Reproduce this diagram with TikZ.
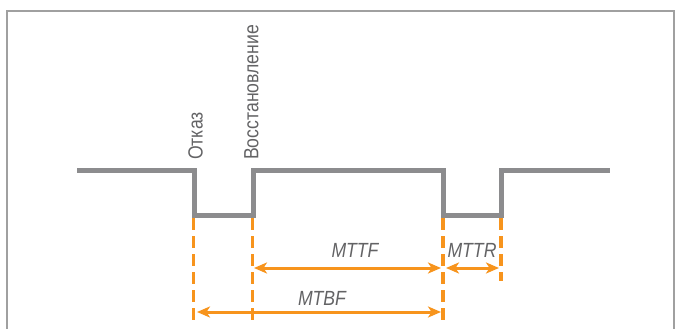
\documentclass[tikz,border=0pt]{standalone}
\usepackage{fontspec}
\setsansfont{Liberation Sans}
\newfontfamily\condfont[FakeStretch=0.86]{Liberation Sans}
\usetikzlibrary{arrows.meta}
\definecolor{sig}{HTML}{8C8C8E}
\definecolor{org}{HTML}{F7941D}
\definecolor{txt}{HTML}{636365}
\definecolor{framec}{HTML}{A0A0A0}
\tikzset{
  signal/.style={draw=sig, line width=5pt, line join=miter},
  marker/.style={draw=org, line width=3.3pt, dash pattern=on 12pt off 6pt},
  span/.style={draw=org, line width=3pt, {Stealth[length=13pt,width=11pt,inset=3.5pt]}-{Stealth[length=13pt,width=11pt,inset=3.5pt]}},
  vlabel/.style={rotate=90, anchor=west, inner sep=0pt, text=txt, font=\condfont\fontsize{20.5}{20.5}\selectfont},
  mlabel/.style={inner sep=0pt, text=txt, font=\condfont\itshape\fontsize{20.5}{20.5}\selectfont},
}
\begin{document}
\begin{tikzpicture}[x=1pt,y=-1pt]
\useasboundingbox (0,0) rectangle (681,329);
% frame
\coordinate (fbl) at (7,329);
\coordinate (ftl) at (7,11);
\coordinate (ftr) at (674,11);
\coordinate (fbr) at (674,329);
\draw[draw=framec, line width=1.5pt] (fbl) -- (ftl) -- (ftr) -- (fbr);
% signal
\coordinate (s0) at (77,170.5);
\coordinate (s1) at (194,170.5);
\coordinate (s2) at (194,215.5);
\coordinate (s3) at (253,215.5);
\coordinate (s4) at (253,170.5);
\coordinate (s5) at (443,170.5);
\coordinate (s6) at (443,215.5);
\coordinate (s7) at (501,215.5);
\coordinate (s8) at (501,170.5);
\coordinate (s9) at (610,170.5);
\draw[signal] (s0) -- (s1) -- (s2) -- (s3) -- (s4) -- (s5) -- (s6) -- (s7) -- (s8) -- (s9);
% markers
\coordinate (t1) at (193.5,218);
\coordinate (t2) at (252.5,218);
\coordinate (t3) at (443,218);
\coordinate (t4) at (501,218);
\coordinate (m1) at (193.5,320);
\coordinate (m2) at (252.5,320);
\coordinate (m3) at (443,320);
\coordinate (m4) at (501,281);
\draw[marker] (t1) -- (m1);
\draw[marker] (t2) -- (m2);
\draw[marker] (t3) -- (m3);
\draw[marker] (t4) -- (m4);
% spans
\coordinate (a1) at (254,268);
\coordinate (a2) at (441,268);
\coordinate (b1) at (446,268);
\coordinate (b2) at (499,268);
\coordinate (c1) at (197,312);
\coordinate (c2) at (441,312);
\draw[span] (a1) -- (a2);
\draw[span] (b1) -- (b2);
\draw[span] (c1) -- (c2);
% labels
\node[vlabel] (otkaz) at (195.5,160) {Отказ};
\node[vlabel] (vosst) at (251.5,160) {Восстановление};
\node[mlabel] (mttf) at (355,250) {MTTF};
\node[mlabel] (mttr) at (472,250) {MTTR};
\node[mlabel] (mtbf) at (322,298) {MTBF};
\end{tikzpicture}
\end{document}
